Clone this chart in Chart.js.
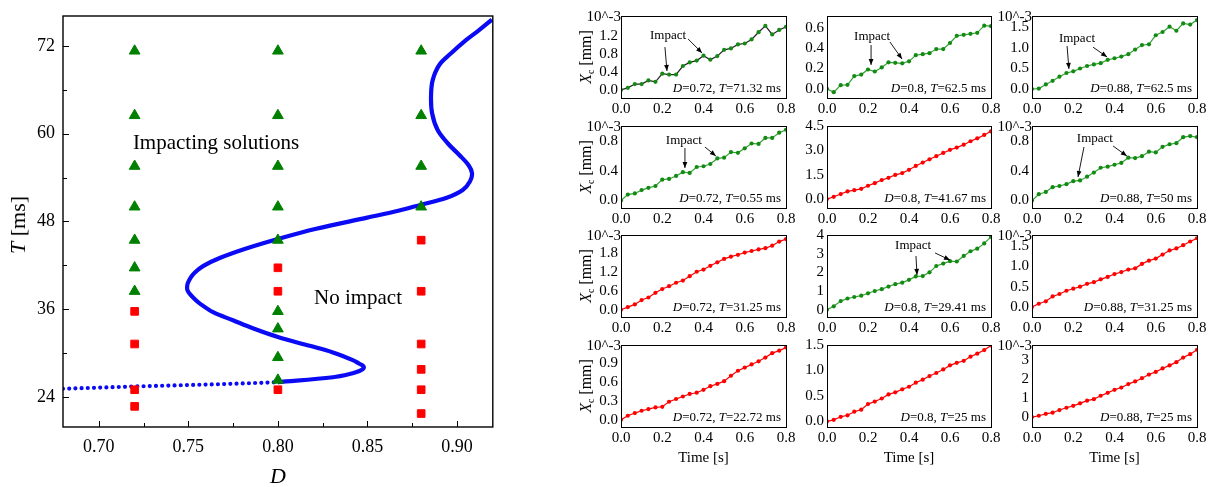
<!DOCTYPE html>
<html>
<head>
<meta charset="utf-8">
<script src="https://cdn.jsdelivr.net/npm/chart.js@4.4.0/dist/chart.umd.min.js"></script>
<style>
  body { margin: 0; background: #fff; }
  #wrap { position: relative; width: 1216px; height: 487px; overflow: hidden; font-family: 'Liberation Serif', serif; color: #000; }
  canvas { position: absolute; }
  .lbl { position: absolute; white-space: nowrap; line-height: 1; }
  .lbl sub { font-size: 0.62em; vertical-align: -0.3em; line-height: 0; }
</style>
</head>
<body>
<div id="wrap"></div>
<script>
// ---- left panel: D-T plane ----
const D_TICKS = [0.70, 0.75, 0.80, 0.85, 0.90];
const D_MINOR = [0.725, 0.775, 0.825, 0.875];
const T_TICKS = [24, 36, 48, 60, 72];
const T_MINOR = [30, 42, 54, 66];

const IMPACT_T_072 = [71.32, 62.5, 55.56, 50, 45.45, 41.67, 38.46];
const NOIMP_T_072 = [35.71, 31.25, 25, 22.72];
const IMPACT_T_080 = [71.32, 62.5, 55.56, 50, 45.45, 35.71, 33.33, 29.41, 26.32];
const NOIMP_T_080 = [41.67, 38.46, 25];
const IMPACT_T_088 = [71.32, 62.5, 55.56, 50];
const NOIMP_T_088 = [45.45, 38.46, 31.25, 27.78, 25, 21.74];

// boundary curve (sparse dotted part, then dense part)
const CURVE_DOT_D = [0.68, 0.70, 0.72, 0.74, 0.76, 0.78, 0.80];
const CURVE_DOT_T = [25.13, 25.28, 25.44, 25.57, 25.70, 25.85, 26.03];
const CURVE_D = [0.80, 0.8307, 0.8418, 0.8455, 0.8474, 0.848, 0.8474, 0.8455, 0.8418, 0.8307, 0.8177, 0.80, 0.786, 0.7749,
  0.7638, 0.7563, 0.7535, 0.7508, 0.7495, 0.7493, 0.7496, 0.7512, 0.7535, 0.7582, 0.7675, 0.7823, 0.80, 0.8214, 0.8493,
  0.8678, 0.88, 0.8939, 0.9032, 0.9073, 0.9084, 0.9065, 0.9013, 0.8948, 0.8892, 0.8861, 0.8855, 0.8864, 0.8901, 0.8967,
  0.905, 0.9125, 0.9195];
const CURVE_T = [26.03, 26.7, 27.25, 27.55, 27.8, 28.05, 28.3, 28.55, 29.05, 30.1, 31.0, 32.2, 33.4, 34.5,
  35.6, 36.8, 37.4, 38.1, 38.6, 39.0, 39.5, 40.3, 41.0, 41.9, 43.0, 44.3, 45.6, 47.0, 48.5,
  49.5, 50.3, 51.2, 52.3, 53.5, 54.6, 55.7, 57.1, 58.7, 60.5, 62.8, 65.1, 67.3, 69.4, 71.0,
  72.8, 74.2, 75.6];

// ---- right panels: Xc vs time ----
const TIME = [0, 0.033, 0.067, 0.1, 0.133, 0.167, 0.2, 0.233, 0.267, 0.3, 0.333, 0.367, 0.4,
  0.433, 0.467, 0.5, 0.533, 0.567, 0.6, 0.633, 0.667, 0.7, 0.733, 0.767, 0.8];
const TIME_TICKS = [0, 0.2, 0.4, 0.6, 0.8];

const XC_072_7132 = [0, 0.045, 0.13, 0.13, 0.21, 0.18, 0.36, 0.34, 0.34, 0.53, 0.61, 0.65, 0.76, 0.67, 0.75, 0.89, 0.92, 1.01, 1.03, 1.12, 1.28, 1.42, 1.23, 1.33, 1.40];
const XC_080_625 = [0, -0.033, 0.036, 0.039, 0.125, 0.14, 0.19, 0.17, 0.21, 0.26, 0.255, 0.25, 0.27, 0.33, 0.34, 0.35, 0.39, 0.39, 0.45, 0.52, 0.53, 0.54, 0.55, 0.62, 0.615];
const XC_088_625 = [0, 0.01, 0.11, 0.2, 0.3, 0.39, 0.43, 0.5, 0.56, 0.6, 0.63, 0.71, 0.75, 0.79, 0.85, 0.96, 1.07, 1.09, 1.31, 1.39, 1.52, 1.42, 1.6, 1.57, 1.68];
const XC_072_055 = [0, 0.08, 0.095, 0.14, 0.17, 0.195, 0.28, 0.29, 0.33, 0.38, 0.37, 0.45, 0.46, 0.49, 0.565, 0.575, 0.65, 0.64, 0.70, 0.765, 0.76, 0.84, 0.84, 0.91, 0.95];
const XC_080_4167 = [0, 0.14, 0.31, 0.47, 0.55, 0.63, 0.82, 0.98, 1.17, 1.31, 1.49, 1.6, 1.8, 2.04, 2.25, 2.45, 2.64, 2.84, 3.03, 3.17, 3.35, 3.56, 3.74, 3.95, 4.17];
const XC_088_50 = [0, 0.085, 0.115, 0.18, 0.195, 0.22, 0.26, 0.27, 0.32, 0.375, 0.44, 0.455, 0.48, 0.505, 0.575, 0.57, 0.595, 0.655, 0.645, 0.72, 0.755, 0.77, 0.85, 0.865, 0.85];
const XC_072_3125 = [0, 0.085, 0.17, 0.31, 0.39, 0.54, 0.66, 0.75, 0.86, 0.93, 1.07, 1.21, 1.28, 1.40, 1.51, 1.62, 1.69, 1.75, 1.82, 1.87, 1.92, 1.96, 2.04, 2.17, 2.25];
const XC_080_2941 = [0, 0.18, 0.46, 0.6, 0.68, 0.75, 0.88, 1.0, 1.1, 1.24, 1.37, 1.45, 1.6, 1.78, 1.8, 2.0, 2.34, 2.47, 2.6, 2.58, 2.88, 3.13, 3.27, 3.55, 3.9];
const XC_088_3125 = [0, 0.08, 0.14, 0.26, 0.32, 0.4, 0.45, 0.5, 0.57, 0.61, 0.68, 0.74, 0.81, 0.86, 0.92, 0.95, 1.06, 1.14, 1.19, 1.29, 1.39, 1.44, 1.52, 1.61, 1.69];
const XC_072_2272 = [0, 0.063, 0.106, 0.143, 0.17, 0.196, 0.206, 0.286, 0.33, 0.37, 0.41, 0.43, 0.476, 0.534, 0.57, 0.614, 0.70, 0.78, 0.83, 0.88, 0.93, 0.99, 1.06, 1.1, 1.15];
const XC_080_25 = [0, 0.03, 0.09, 0.12, 0.19, 0.23, 0.34, 0.39, 0.45, 0.53, 0.57, 0.63, 0.68, 0.76, 0.82, 0.89, 0.95, 1.02, 1.1, 1.15, 1.19, 1.27, 1.33, 1.4, 1.49];
const XC_088_25 = [0, 0.07, 0.17, 0.23, 0.37, 0.49, 0.59, 0.72, 0.86, 0.94, 1.12, 1.27, 1.43, 1.55, 1.73, 1.87, 2.04, 2.23, 2.37, 2.55, 2.71, 2.88, 3.12, 3.3, 3.53];

// layout of the 4x3 grid (pixels)
const COL_LEFT = [621, 827, 1032];
const COL_W = [165, 164, 165];
const ROW_TOP = [16, 126, 235, 345];
const ROW_H = 82;

const GREEN = '#138a13', GREEN_LINE = '#33a533', RED = '#ff0000';

// row, col, series, label, y range, y ticks, decimals, colour, impact notes [text t,v, arrows]
const PANELS = [
  { r: 0, c: 0, y: XC_072_7132, D: '0.72', T: '71.32', yr: [-0.18, 1.64], yt: [0, 0.4, 0.8, 1.2], dec: 1, imp: true, line: '#222',
    note: { t: 0.228, v: 1.2, arrows: [[0.213, 0.95, 0.223, 0.42], [0.325, 1.13, 0.393, 0.82]] } },
  { r: 0, c: 1, y: XC_080_625, D: '0.8', T: '62.5', yr: [-0.09, 0.715], yt: [0, 0.2, 0.4, 0.6], dec: 1, imp: true,
    note: { t: 0.22, v: 0.51, arrows: [[0.215, 0.43, 0.215, 0.235], [0.307, 0.46, 0.366, 0.293]] } },
  { r: 0, c: 2, y: XC_088_625, D: '0.88', T: '62.5', yr: [-0.22, 1.78], yt: [0, 0.5, 1.0, 1.5], dec: 1, imp: true,
    note: { t: 0.218, v: 1.24, arrows: [[0.17, 1.05, 0.179, 0.49], [0.296, 1.02, 0.364, 0.78]] } },
  { r: 1, c: 0, y: XC_072_055, D: '0.72', T: '0.55', yr: [-0.1, 1.0], yt: [0, 0.4, 0.8], dec: 1, imp: true,
    note: { t: 0.305, v: 0.8, arrows: [[0.31, 0.705, 0.31, 0.437], [0.407, 0.718, 0.46, 0.598]] } },
  { r: 1, c: 1, y: XC_080_4167, D: '0.8', T: '41.67', yr: [-0.55, 4.5], yt: [0, 1.5, 3.0, 4.5], dec: 1, imp: false },
  { r: 1, c: 2, y: XC_088_50, D: '0.88', T: '50', yr: [-0.1, 1.0], yt: [0, 0.4, 0.8], dec: 1, imp: true,
    note: { t: 0.305, v: 0.826, arrows: [[0.252, 0.718, 0.223, 0.316], [0.393, 0.732, 0.46, 0.598]] } },
  { r: 2, c: 0, y: XC_072_3125, D: '0.72', T: '31.25', yr: [-0.23, 2.38], yt: [0, 0.6, 1.2, 1.8], dec: 1, imp: false },
  { r: 2, c: 1, y: XC_080_2941, D: '0.8', T: '29.41', yr: [-0.39, 4.0], yt: [0, 1, 2, 3, 4], dec: 0, imp: true,
    note: { t: 0.42, v: 3.41, arrows: [[0.434, 2.876, 0.439, 1.86], [0.527, 3.04, 0.6, 2.66]] } },
  { r: 2, c: 2, y: XC_088_3125, D: '0.88', T: '31.25', yr: [-0.245, 1.77], yt: [0, 0.5, 1.0, 1.5], dec: 1, imp: false },
  { r: 3, c: 0, y: XC_072_2272, D: '0.72', T: '22.72', yr: [-0.116, 1.19], yt: [0, 0.3, 0.6, 0.9], dec: 1, imp: false },
  { r: 3, c: 1, y: XC_080_25, D: '0.8', T: '25', yr: [-0.11, 1.5], yt: [0, 0.5, 1.0, 1.5], dec: 1, imp: false },
  { r: 3, c: 2, y: XC_088_25, D: '0.88', T: '25', yr: [-0.52, 3.78], yt: [0, 1, 2, 3], dec: 0, imp: false }
];

Chart.defaults.font.family = "'Liberation Serif', serif";
Chart.defaults.color = '#000';

const wrap = document.getElementById('wrap');

function addCanvas(left, top, w, h) {
  const cv = document.createElement('canvas');
  cv.width = w; cv.height = h;
  cv.style.left = left + 'px'; cv.style.top = top + 'px';
  cv.style.width = w + 'px'; cv.style.height = h + 'px';
  wrap.appendChild(cv);
  return cv;
}

function addLabel(html, x, y, size, opts) {
  opts = opts || {};
  const el = document.createElement('div');
  el.className = 'lbl';
  el.innerHTML = html;
  el.style.left = x + 'px';
  el.style.top = y + 'px';
  el.style.fontSize = size + 'px';
  const ax = opts.align === 'right' ? '-100%' : '-50%';
  el.style.transform = 'translate(' + ax + ',-50%)' + (opts.rotate ? ' rotate(-90deg)' : '');
  wrap.appendChild(el);
}

function fixSize(prop, v) {
  return s => {
    s[prop] = v;
    s.paddingLeft = s.paddingRight = s.paddingTop = s.paddingBottom = 0;
  };
}

function setTicks(list) {
  return s => { s.ticks = list.map(v => ({ value: v })); };
}

function drawArrow(ctx, x1, y1, x2, y2) {
  ctx.beginPath(); ctx.moveTo(x1, y1); ctx.lineTo(x2, y2); ctx.stroke();
  const a = Math.atan2(y2 - y1, x2 - x1), L = 6, W = 2.4;
  ctx.beginPath();
  ctx.moveTo(x2, y2);
  ctx.lineTo(x2 - L * Math.cos(a) + W * Math.sin(a), y2 - L * Math.sin(a) - W * Math.cos(a));
  ctx.lineTo(x2 - L * Math.cos(a) - W * Math.sin(a), y2 - L * Math.sin(a) + W * Math.cos(a));
  ctx.closePath(); ctx.fill();
}

// ---- main chart ----
const mainFrame = {
  id: 'mainFrame',
  afterDraw(chart) {
    const { ctx, chartArea: a, scales } = chart;
    ctx.save();
    ctx.strokeStyle = '#000';
    ctx.lineWidth = 1.4;
    ctx.strokeRect(a.left, a.top, a.right - a.left, a.bottom - a.top);
    ctx.lineWidth = 1;
    ctx.beginPath();
    D_TICKS.concat(D_MINOR).forEach((v, i) => {
      const x = Math.round(scales.x.getPixelForValue(v)) + 0.5;
      const len = i < D_TICKS.length ? 6 : 4;
      ctx.moveTo(x, a.bottom); ctx.lineTo(x, a.bottom - len);
    });
    T_TICKS.concat(T_MINOR).forEach((v, i) => {
      const y = Math.round(scales.y.getPixelForValue(v)) + 0.5;
      const len = i < T_TICKS.length ? 6 : 4;
      ctx.moveTo(a.left, y); ctx.lineTo(a.left + len, y);
    });
    ctx.stroke();
    ctx.restore();
  }
};

const triangles = [], squares = [];
[[0.72, IMPACT_T_072, NOIMP_T_072], [0.80, IMPACT_T_080, NOIMP_T_080], [0.88, IMPACT_T_088, NOIMP_T_088]]
  .forEach(([d, imp, no]) => {
    imp.forEach(t => triangles.push({ x: d, y: t }));
    no.forEach(t => squares.push({ x: d, y: t }));
  });

new Chart(addCanvas(0, 0, 500, 487), {
  type: 'scatter',
  data: {
    datasets: [
      { data: triangles, pointStyle: 'triangle', pointRadius: 6.2, pointBackgroundColor: '#008000', pointBorderColor: '#008000', pointBorderWidth: 1 },
      { data: squares, pointStyle: 'rect', pointRadius: 5.4, pointBackgroundColor: RED, pointBorderColor: RED, pointBorderWidth: 1 },
      { data: CURVE_D.map((d, i) => ({ x: d, y: CURVE_T[i] })), showLine: true, borderColor: '#0a0af5', borderWidth: 4.2,
        pointRadius: 0, tension: 0.35 },
      { data: CURVE_DOT_D.map((d, i) => ({ x: d, y: CURVE_DOT_T[i] })), showLine: true, borderColor: '#0a0af5', borderWidth: 4.2,
        borderDash: [0, 6.2], borderCapStyle: 'round', pointRadius: 0, tension: 0 }
    ]
  },
  options: {
    responsive: false,
    animation: false,
    events: [],
    layout: { padding: { left: 0, top: 16, right: 7, bottom: 0 } },
    plugins: { legend: { display: false }, tooltip: { enabled: false } },
    scales: {
      x: {
        type: 'linear', min: 0.68, max: 0.92,
        afterBuildTicks: setTicks(D_TICKS),
        afterFit: fixSize('height', 60),
        grid: { display: false, drawTicks: false },
        border: { display: false },
        ticks: { font: { size: 18 }, padding: 9, maxRotation: 0, autoSkip: false, callback: v => v.toFixed(2) }
      },
      y: {
        type: 'linear', min: 19.9, max: 76.1,
        afterBuildTicks: setTicks(T_TICKS),
        afterFit: fixSize('width', 63),
        grid: { display: false, drawTicks: false },
        border: { display: false },
        ticks: { font: { size: 18 }, padding: 8, autoSkip: false, callback: v => String(v) }
      }
    }
  },
  plugins: [mainFrame]
});

addLabel('Impacting solutions', 216, 142, 21);
addLabel('No impact', 358, 297, 21);
addLabel('<i>T</i> [ms]', 18, 225, 22, { rotate: true });
addLabel('<i>D</i>', 278, 476, 22);

// ---- small charts ----
const smallFrame = {
  id: 'smallFrame',
  afterDraw(chart) {
    const { ctx, chartArea: a, scales } = chart;
    const p = chart.options.plugins.smallFrame;
    ctx.save();
    ctx.strokeStyle = '#000';
    ctx.lineWidth = 1;
    ctx.strokeRect(Math.round(a.left) + 0.5, Math.round(a.top) + 0.5, Math.round(a.right - a.left), Math.round(a.bottom - a.top));
    if (p && p.note) {
      const n = p.note;
      ctx.fillStyle = '#000';
      ctx.font = "13px 'Liberation Serif'";
      ctx.textAlign = 'center';
      ctx.textBaseline = 'middle';
      ctx.fillText('Impact', scales.x.getPixelForValue(n.t), scales.y.getPixelForValue(n.v));
      ctx.lineWidth = 0.9;
      n.arrows.forEach(([t1, v1, t2, v2]) => {
        drawArrow(ctx, scales.x.getPixelForValue(t1), scales.y.getPixelForValue(v1),
          scales.x.getPixelForValue(t2), scales.y.getPixelForValue(v2));
      });
    }
    ctx.restore();
  }
};

const PADL = 50, PADT = 10, PADR = 12, AXH = 22;

PANELS.forEach(p => {
  const left = COL_LEFT[p.c], top = ROW_TOP[p.r], w = COL_W[p.c];
  const lineCol = p.line || (p.imp ? GREEN_LINE : RED);
  const ptCol = p.imp ? GREEN : RED;
  new Chart(addCanvas(left - PADL, top - PADT, PADL + w + PADR, PADT + ROW_H + AXH), {
    type: 'scatter',
    data: {
      datasets: [{
        data: TIME.map((t, i) => ({ x: t, y: p.y[i] })),
        showLine: true, borderColor: lineCol, borderWidth: 1.2, tension: 0,
        pointRadius: 2.1, pointBackgroundColor: ptCol, pointBorderColor: ptCol, pointBorderWidth: 0
      }]
    },
    options: {
      responsive: false,
      animation: false,
      events: [],
      layout: { padding: { left: 0, top: PADT, right: PADR, bottom: 0 } },
      plugins: { legend: { display: false }, tooltip: { enabled: false }, smallFrame: { note: p.note } },
      scales: {
        x: {
          type: 'linear', min: 0, max: 0.8,
          afterBuildTicks: setTicks(TIME_TICKS),
          afterFit: fixSize('height', AXH),
          grid: { display: false, drawTicks: false },
          border: { display: false },
          ticks: { font: { size: 15 }, padding: 2, maxRotation: 0, autoSkip: false, callback: v => v.toFixed(1) }
        },
        y: {
          type: 'linear', min: p.yr[0], max: p.yr[1],
          afterBuildTicks: setTicks(p.yt),
          afterFit: fixSize('width', PADL),
          grid: { display: false, drawTicks: false },
          border: { display: false },
          ticks: { font: { size: 15 }, padding: 3, autoSkip: false, callback: v => v.toFixed(p.dec) }
        }
      }
    },
    plugins: [smallFrame]
  });

  addLabel('<i>D</i>=' + p.D + ', <i>T</i>=' + p.T + ' ms', left + w - 5, top + ROW_H - 11, 13, { align: 'right' });
  if (p.c !== 1) addLabel('10^-3', left, top, 15, { align: 'right' });
  if (p.c === 0) addLabel('<i>X</i><sub>c</sub> [mm]', 586, top + ROW_H / 2, 16, { rotate: true });
  if (p.r === 3) addLabel('Time [s]', left + w / 2, 457, 15);
});
</script>
</body>
</html>
